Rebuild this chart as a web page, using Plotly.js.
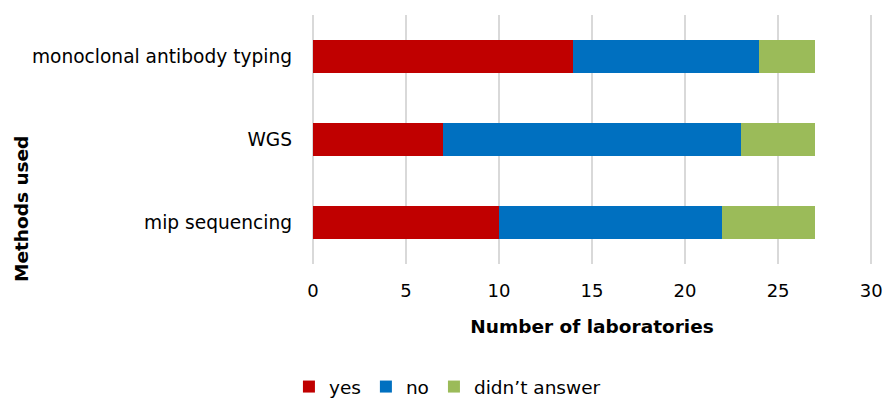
<!DOCTYPE html>
<html>
<head>
<meta charset="utf-8">
<script src="https://cdn.plot.ly/plotly-3.0.1.min.js"></script>
<style>
  html, body { margin: 0; padding: 0; background: #fff; }
  #chart { width: 886px; height: 399px; }
</style>
</head>
<body>
<div id="chart"></div>
<script>
// Methods, listed bottom to top as drawn on the category axis
const methods = ['mip sequencing', 'WGS', 'monoclonal antibody typing'];
const yesCounts = [10, 7, 14];
const noCounts = [12, 16, 10];
const noAnswerCounts = [5, 4, 3];
const seriesNames = ['yes', 'no', 'didn\u2019t answer'];
const seriesColors = ['#c00000', '#0070c0', '#9bbb59'];
const xTicks = [0, 5, 10, 15, 20, 25, 30];
const yTitle = 'Methods used';

const font = 'DejaVu Sans, Verdana, sans-serif';

const traces = [yesCounts, noCounts, noAnswerCounts].map((vals, i) => ({
  type: 'bar',
  orientation: 'h',
  y: methods,
  x: vals,
  name: seriesNames[i],
  marker: { color: seriesColors[i], line: { width: 0 } },
  width: 0.4,
  hoverinfo: 'x+y+name'
}));

const layout = {
  width: 886,
  height: 399,
  barmode: 'stack',
  paper_bgcolor: '#fff',
  plot_bgcolor: '#fff',
  margin: { l: 311, r: 13, t: 15, b: 135 },
  font: { family: font, size: 18, color: '#000' },
  xaxis: {
    // small padding so the gridlines at 0 and 30 are kept
    range: [-0.1, 30.1],
    tickvals: xTicks,
    ticktext: xTicks.map(String),
    showgrid: true,
    gridcolor: '#d9d9d9',
    gridwidth: 1.5,
    zeroline: false,
    showline: false,
    ticks: '',
    automargin: false,
    ticklabelstandoff: 14,
    tickfont: { family: font, size: 18, color: '#000' },
    title: {
      text: '<b>Number of laboratories</b>',
      font: { family: font, size: 18.5, color: '#000' },
      standoff: 20
    }
  },
  yaxis: {
    categoryorder: 'array',
    categoryarray: methods,
    range: [-0.5, 2.5],
    showgrid: false,
    zeroline: false,
    showline: false,
    ticks: '',
    automargin: false,
    ticklabelstandoff: 18,
    tickfont: { family: font, size: 18.6, color: '#000' }
  },
  // vertical axis title, centred lower than the plot area
  annotations: [{
    text: '<b>' + yTitle + '</b>',
    textangle: -90,
    xref: 'paper',
    yref: 'paper',
    x: (21 - 311) / 562,
    y: (264 - 209) / 249,
    xanchor: 'center',
    yanchor: 'middle',
    showarrow: false,
    font: { family: font, size: 18.5, color: '#000' }
  }],
  legend: {
    orientation: 'h',
    traceorder: 'normal',
    x: 0.505,
    xref: 'container',
    xanchor: 'center',
    y: 0.03,
    yref: 'container',
    yanchor: 'middle',
    font: { family: font, size: 18.5, color: '#000' },
    tracegroupgap: 0
  },
  showlegend: true
};

Plotly.newPlot('chart', traces, layout, { displayModeBar: false, staticPlot: true });
</script>
</body>
</html>
